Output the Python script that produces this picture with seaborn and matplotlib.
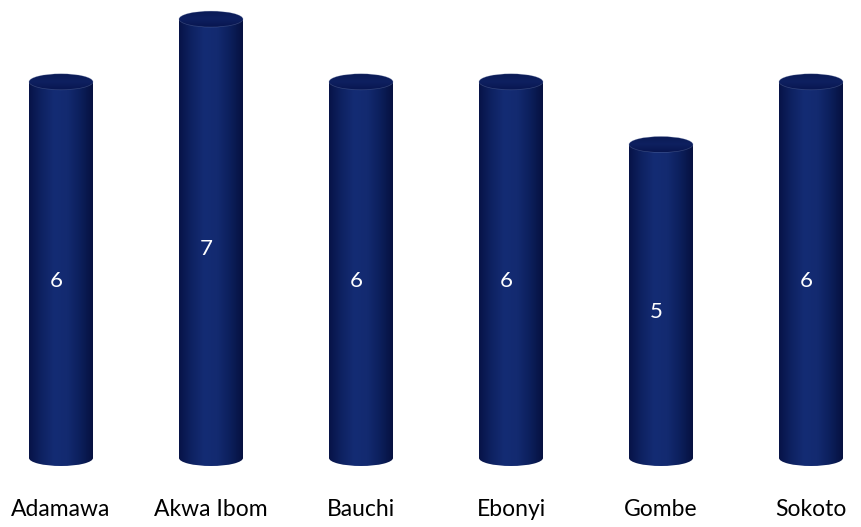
import numpy as np
import pandas as pd
import matplotlib
matplotlib.use("Agg")
import matplotlib.pyplot as plt
import seaborn as sns
from matplotlib.patches import Ellipse
from matplotlib.colors import LinearSegmentedColormap

states = ["Adamawa", "Akwa Ibom", "Bauchi", "Ebonyi", "Gombe", "Sokoto"]
counts = [6, 7, 6, 6, 5, 6]

df = pd.DataFrame({"state": states, "count": counts})

sns.set_theme(style="white")
plt.rcParams['font.family'] = ['Lato', 'DejaVu Sans']

fig = plt.figure(figsize=(8.62, 5.27), dpi=100)
ax = fig.add_axes([0, 0, 1, 1])

bw = 64 / 150
sns.barplot(data=df, x="state", y="count", color="#0d1f5c", width=bw,
            saturation=1, ax=ax, edgecolor="none")

ax.set_xlim(-61 / 150, (862 - 61) / 150)
upp = 62.7
ax.set_ylim(-69 / upp, (527 - 69) / upp)
ax.axis("off")

cmap = LinearSegmentedColormap.from_list(
    "cyl", ["#071347", "#0e2262", "#142c74", "#132a70", "#0c1f5c", "#061140"])
grad = np.linspace(0, 1, 256).reshape(1, -1)
capmap = LinearSegmentedColormap.from_list(
    "cap", ["#081650", "#0e2060", "#0a1a54"])

eh = 16 / upp
bars = list(ax.patches)
for bar, val, name in zip(bars, counts, states):
    x0 = bar.get_x()
    w = bar.get_width()
    xc = x0 + w / 2
    h = bar.get_height()
    bar.set_alpha(0)
    im = ax.imshow(grad, cmap=cmap, aspect="auto",
                   extent=[x0, x0 + w, 0, h], zorder=2)
    im.set_clip_path(bar)
    be = Ellipse((xc, 0), w, eh, facecolor="none", edgecolor="none")
    ax.add_patch(be)
    im2 = ax.imshow(grad, cmap=cmap, aspect="auto",
                    extent=[x0, x0 + w, -eh / 2, eh / 2], zorder=2)
    im2.set_clip_path(be)
    te = Ellipse((xc, h), w, eh, facecolor="none", edgecolor="none")
    ax.add_patch(te)
    vgrad = np.linspace(0, 1, 64).reshape(-1, 1)
    im3 = ax.imshow(vgrad, cmap=capmap, aspect="auto", origin="lower",
                    extent=[x0, x0 + w, h - eh / 2, h + eh / 2], zorder=3)
    im3.set_clip_path(te)
    ax.add_patch(Ellipse((xc, h), w, eh, facecolor="none",
                         edgecolor="#8090b8", lw=0.5, alpha=0.35, zorder=4))
    ax.text(xc - 5 / 150, h / 2 - 0.17, str(val), color="white", fontsize=16,
            ha="center", va="center", zorder=5)
    ax.text(xc, -(510 - 458) / upp, name, color="black", fontsize=16.5,
            ha="center", va="center", zorder=5, clip_on=False)

ax.set_xticks([])
ax.set_yticks([])
fig.savefig("out.png", dpi=100)
